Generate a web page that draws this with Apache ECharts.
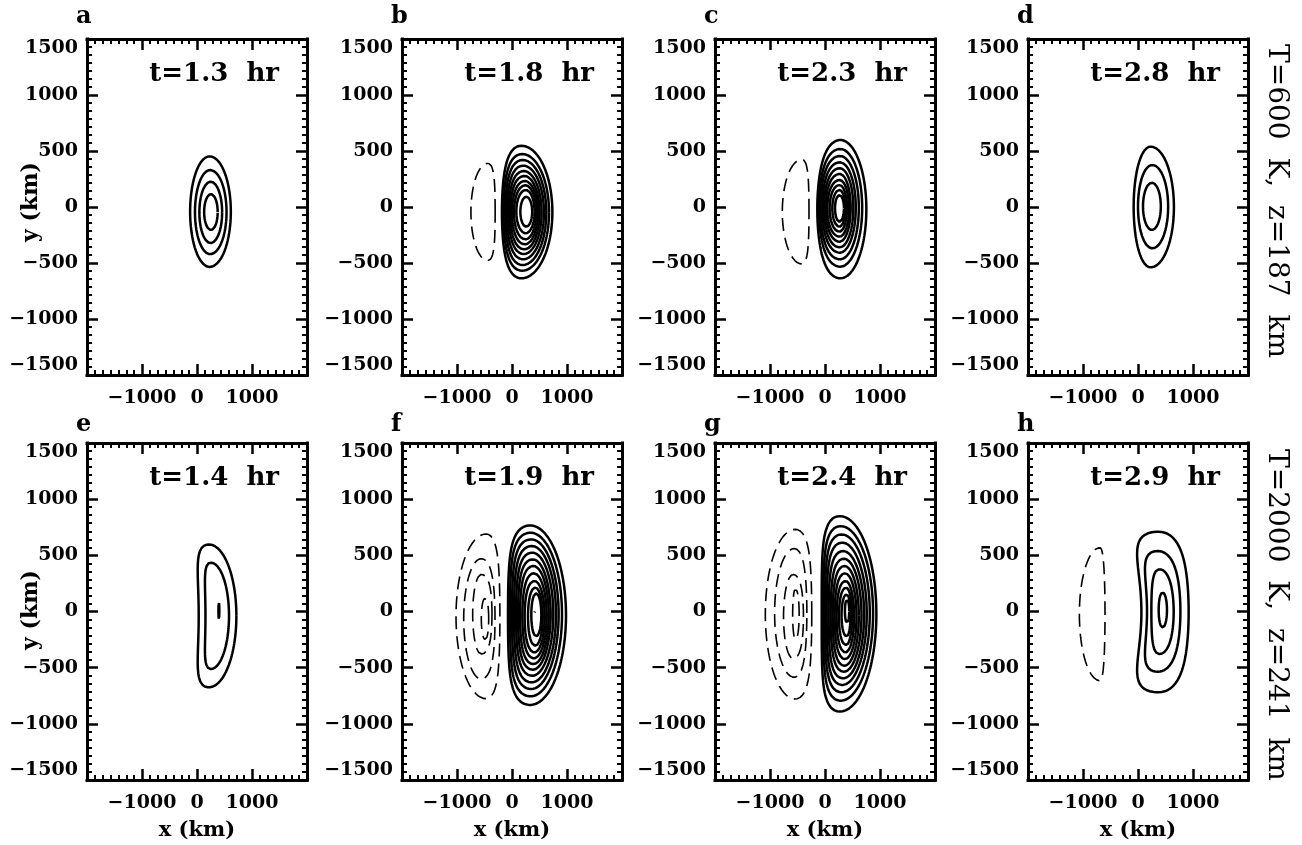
<!DOCTYPE html>
<html>
<head>
<meta charset="utf-8">
<title>Contour panels</title>
<script src="https://cdn.jsdelivr.net/npm/echarts@6/dist/echarts.min.js"></script>
<style>
html, body { margin: 0; padding: 0; background: #fff; }
#chart { width: 1302px; height: 845px; }
</style>
</head>
<body>
<div id="chart"></div>
<script>
// panel captions
const panelLetters = ['a', 'b', 'c', 'd', 'e', 'f', 'g', 'h'];
const panelTimes = ['1.3', '1.8', '2.3', '2.8', '1.4', '1.9', '2.4', '2.9'];
const rowLabels = ['T=600  K,  z=187  km', 'T=2000  K,  z=241  km'];

// axes (km)
const xRange = [-2000, 2000];
const yRange = [-1500, 1500];
const xTicks = [-1000, 0, 1000];
const yTicks = [-1500, -1000, -500, 0, 500, 1000, 1500];

// contours, km:
// [x left, x right, y bottom, y top, x of top/bottom apex, left flattening, right flattening]
const solidA = [
  [-125, 615, -535, 452, 230, 0, 0],
  [-37, 537, -421, 330, 240, 0, 0],
  [43, 457, -322, 226, 248, 0, 0],
  [130, 376, -205, 115, 253, 0, 0]
];
const dashA = [];

const solidB = [
  [-183, 734, -637, 547, 170, 0.6, 0],
  [-153, 673, -569, 473, 185, 0.6, 0],
  [-122, 624, -518, 420, 195, 0.55, 0],
  [-92, 581, -467, 369, 205, 0.5, 0],
  [-61, 538, -420, 321, 215, 0.45, 0],
  [-31, 501, -378, 277, 225, 0.4, 0],
  [0, 471, -333, 232, 235, 0.3, 0],
  [37, 440, -289, 194, 245, 0.2, 0],
  [79, 410, -235, 152, 252, 0.1, 0],
  [152, 367, -176, 92, 260, 0, 0]
];
const dashB = [
  [-747, -306, -479, 390, -440, 0, 0.8]
];

const solidC = [
  [-140, 752, -637, 598, 280, 0.4, 0],
  [-109, 676, -533, 518, 278, 0.4, 0],
  [-80, 615, -467, 455, 275, 0.4, 0],
  [-49, 560, -408, 399, 272, 0.35, 0],
  [-18, 515, -360, 346, 270, 0.3, 0],
  [11, 467, -310, 295, 268, 0.25, 0],
  [42, 436, -265, 241, 266, 0.2, 0],
  [84, 400, -220, 196, 265, 0.15, 0],
  [133, 369, -176, 152, 264, 0.1, 0],
  [182, 345, -131, 107, 263, 0, 0]
];
const dashC = [
  [-776, -291, -509, 425, -420, 0, 0.8]
];

const solidD = [
  [-79, 653, -539, 539, 230, 0.1, 0],
  [0, 548, -369, 375, 260, 0.05, 0],
  [91, 415, -205, 217, 253, 0, 0]
];
const dashD = [];

const solidE = [
  [31, 716, -675, 597, 215, 1.3, 0],
  [154, 582, -512, 435, 250, 1.3, 0],
  [390, 406, -68, 80, 398, 0, 0]
];
const dashE = [];

const solidF = [
  [-73, 982, -832, 766, 330, 0.9, 0],
  [-36, 909, -755, 701, 340, 0.9, 0],
  [0, 848, -690, 642, 350, 0.85, 0],
  [36, 800, -631, 583, 360, 0.8, 0],
  [73, 751, -572, 524, 370, 0.75, 0],
  [109, 703, -518, 464, 380, 0.7, 0],
  [145, 667, -468, 405, 390, 0.6, 0],
  [188, 630, -417, 340, 400, 0.5, 0],
  [230, 594, -364, 272, 410, 0.4, 0],
  [291, 558, -305, 213, 425, 0.3, 0],
  [351, 533, -222, 163, 440, 0.1, 0],
  [402, 418, -8, 8, 410, 0, 0]
];
const dashF = [
  [-1018, -220, -776, 690, -470, 0, 0.8],
  [-878, -309, -601, 470, -560, 0, 0.6],
  [-715, -364, -379, 330, -560, 0, 0.6],
  [-558, -424, -250, 120, -490, 0, 0.3]
];

const solidG = [
  [-60, 934, -891, 849, 270, 1.0, 0],
  [-30, 874, -794, 760, 285, 0.95, 0],
  [0, 814, -719, 686, 300, 0.9, 0],
  [30, 759, -654, 613, 315, 0.85, 0],
  [66, 711, -595, 538, 330, 0.8, 0],
  [103, 663, -536, 470, 345, 0.7, 0],
  [139, 615, -483, 405, 355, 0.6, 0],
  [175, 573, -424, 340, 365, 0.5, 0],
  [211, 530, -364, 272, 375, 0.4, 0],
  [253, 494, -299, 213, 385, 0.3, 0],
  [301, 464, -222, 154, 395, 0.2, 0],
  [362, 440, -104, 109, 402, 0, 0]
];
const dashG = [
  [-1085, -241, -779, 731, -542, 0, 0.8],
  [-916, -330, -586, 560, -560, 0, 0.6],
  [-754, -392, -420, 330, -580, 0, 0.5],
  [-588, -470, -250, 200, -540, 0, 0.3]
];

const solidH = [
  [62, 921, -719, 710, 370, 1.45, 0.6],
  [164, 771, -536, 538, 360, 1.4, 0.5],
  [243, 649, -379, 376, 390, 0.8, 0.3],
  [376, 527, -142, 169, 450, 0.3, 0]
];
const dashH = [
  [-1066, -600, -616, 568, -690, 0, 0.5]
];

const solidSets = [solidA, solidB, solidC, solidD, solidE, solidF, solidG, solidH];
const dashSets = [dashA, dashB, dashC, dashD, dashE, dashF, dashG, dashH];

// layout (px)
const colLeft = [87, 402, 715, 1028];
const rowTop = [39, 443];
const panelW = 220;
const panelH = [336, 337];

const serif = '"DejaVu Serif", "Liberation Serif", serif';

function tickText(v) {
  return v < 0 ? '\u2212' + (-v) : String(v);
}

// closed outline through the library's value axes
function contourPath(p) {
  const [xl, xr, yb, yt, xa, fL, fR] = p;
  const y0 = (yb + yt) / 2, ry = (yt - yb) / 2;
  const rL = (xa - xl) / (1 - fL / 2), bL = fL * rL / 2;
  const rR = (xr - xa) / (1 - fR / 2), bR = fR * rR / 2;
  const n = 160;
  const pts = [];
  for (let i = 0; i <= n; i++) {
    const t = 2 * Math.PI * i / n;
    const c = Math.cos(t), s = Math.sin(t);
    const x = c >= 0 ? xa + rR * c - bR * c * c : xa + rL * c + bL * c * c;
    pts.push([x, y0 + ry * s]);
  }
  return pts;
}

const grids = [], xAxes = [], yAxes = [], series = [], graphics = [];

const frameLine = { show: true, onZero: false, lineStyle: { color: '#000', width: 3, cap: 'square' } };
const majorTick = { show: true, inside: true, length: 11, lineStyle: { color: '#000', width: 2.5 } };
const minorTick = { show: true, splitNumber: 7, length: 5, lineStyle: { color: '#000', width: 2 } };
const labelStyle = { color: '#000', fontFamily: serif, fontWeight: 'bold', fontSize: 19 };

function centered(text, font) {
  return { text: text, font: font, fill: '#000',
    align: 'center', verticalAlign: 'middle', textAlign: 'center', textVerticalAlign: 'middle' };
}

for (let i = 0; i < 8; i++) {
  const row = i >> 2, col = i & 3;
  const left = colLeft[col], top = rowTop[row], h = panelH[row];
  grids.push({ left: left, top: top, width: panelW, height: h });

  ['bottom', 'top'].forEach(function (pos) {
    xAxes.push({
      gridIndex: i, type: 'value', position: pos,
      min: xRange[0], max: xRange[1], interval: 1000,
      axisLine: frameLine, axisTick: majorTick, minorTick: minorTick,
      splitLine: { show: false },
      axisLabel: Object.assign({
        show: pos === 'bottom', margin: 14,
        formatter: function (v) { return xTicks.indexOf(v) >= 0 ? tickText(v) : ''; }
      }, labelStyle)
    });
  });
  ['left', 'right'].forEach(function (pos) {
    yAxes.push({
      gridIndex: i, type: 'value', position: pos,
      min: yRange[0], max: yRange[1], interval: 500,
      axisLine: frameLine, axisTick: majorTick, minorTick: minorTick,
      splitLine: { show: false },
      axisLabel: Object.assign({
        show: pos === 'left', margin: 9,
        verticalAlignMinLabel: 'bottom', verticalAlignMaxLabel: 'top',
        formatter: function (v) { return yTicks.indexOf(v) >= 0 ? tickText(v) : ''; }
      }, labelStyle)
    });
  });

  solidSets[i].forEach(function (p) {
    series.push({
      type: 'line', xAxisIndex: 2 * i, yAxisIndex: 2 * i,
      data: contourPath(p), symbol: 'none', silent: true,
      lineStyle: { color: '#000', width: 2.5 }
    });
  });
  dashSets[i].forEach(function (p) {
    series.push({
      type: 'line', xAxisIndex: 2 * i, yAxisIndex: 2 * i,
      data: contourPath(p), symbol: 'none', silent: true,
      lineStyle: { color: '#000', width: 1.6, type: [13, 7] }
    });
  });

  // panel letter
  graphics.push({
    type: 'text', x: left - 11, y: row ? 425 : 17,
    style: { text: panelLetters[i], font: 'bold 24px ' + serif, fill: '#000',
      align: 'left', verticalAlign: 'middle', textAlign: 'left', textVerticalAlign: 'middle' }
  });
  // time stamp
  graphics.push({
    type: 'text', x: left + panelW - 28, y: top + 35,
    style: { text: 't=' + panelTimes[i] + '  hr', font: 'bold 26px ' + serif, fill: '#000',
      align: 'right', verticalAlign: 'middle', textAlign: 'right', textVerticalAlign: 'middle' }
  });
  if (row === 1) {
    graphics.push({
      type: 'text', x: left + panelW / 2, y: 831,
      style: centered('x (km)', 'bold 21px ' + serif)
    });
  }
  if (col === 0) {
    graphics.push({
      type: 'text', x: 31, y: row ? 610 : 202, rotation: Math.PI / 2,
      style: centered('y (km)', 'bold 22px ' + serif)
    });
  }
}

rowLabels.forEach(function (txt, r) {
  graphics.push({
    type: 'text', x: 1276, y: r ? 615 : 201, rotation: -Math.PI / 2,
    style: centered(txt, '28px ' + serif)
  });
});

const chart = echarts.init(document.getElementById('chart'), null, { renderer: 'canvas' });
chart.setOption({
  backgroundColor: '#fff',
  animation: false,
  grid: grids,
  xAxis: xAxes,
  yAxis: yAxes,
  series: series,
  graphic: graphics
});
</script>
</body>
</html>
